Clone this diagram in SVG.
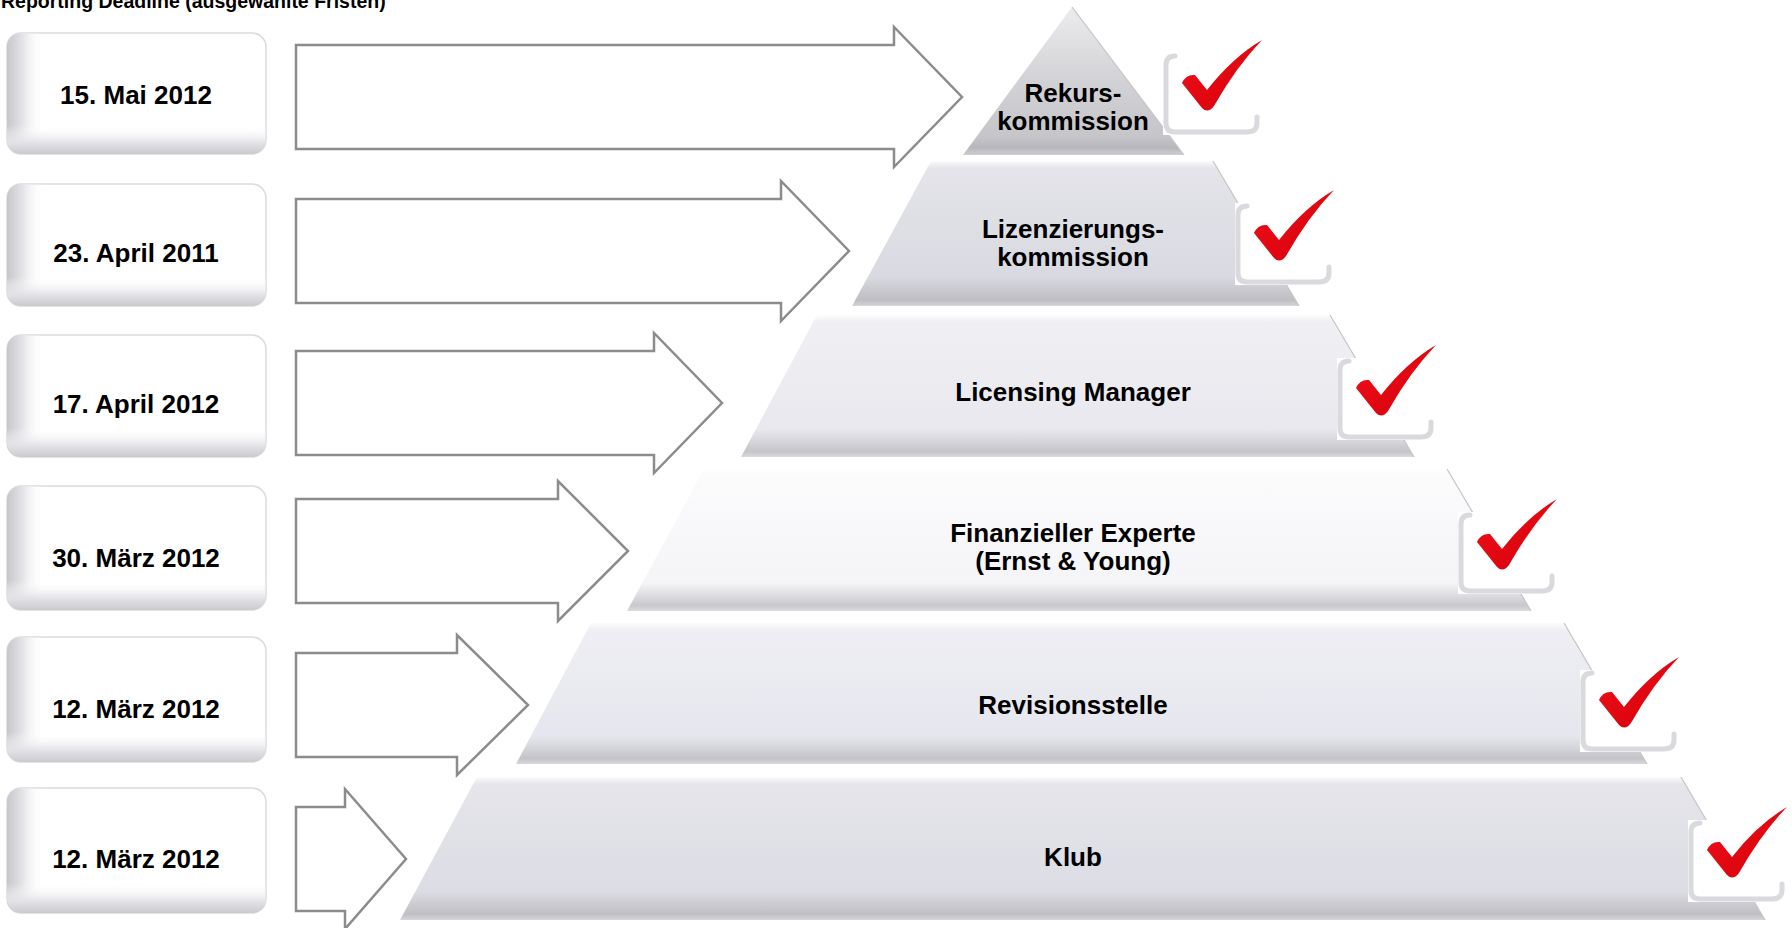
<svg xmlns="http://www.w3.org/2000/svg" width="1792" height="928" viewBox="0 0 1792 928">
<defs>
<linearGradient id="gL" x1="0" y1="0" x2="1" y2="0">
<stop offset="0" stop-color="#c6c6cb" stop-opacity="1"/>
<stop offset="0.06" stop-color="#e4e4e8" stop-opacity="1"/>
<stop offset="0.14" stop-color="#ffffff" stop-opacity="0"/>
</linearGradient>
<linearGradient id="gB" x1="0" y1="0" x2="0" y2="1">
<stop offset="0.76" stop-color="#ffffff" stop-opacity="0"/>
<stop offset="0.91" stop-color="#e2e2e6" stop-opacity="1"/>
<stop offset="1" stop-color="#cacacf" stop-opacity="1"/>
</linearGradient>
<linearGradient id="p1" x1="0" y1="0" x2="0" y2="1">
<stop offset="0" stop-color="#ececee"/>
<stop offset="0.5" stop-color="#d2d2d6"/>
<stop offset="0.88" stop-color="#c6c6ca"/>
<stop offset="0.95" stop-color="#b6b6bb"/>
<stop offset="1" stop-color="#cfcfd3"/>
</linearGradient>
<linearGradient id="p2" x1="0" y1="0" x2="0" y2="1">
<stop offset="0" stop-color="#fbfbfd"/>
<stop offset="0.05" stop-color="#e4e4ea"/>
<stop offset="0.8" stop-color="#d9d9e1"/>
<stop offset="0.88" stop-color="#cbcbd1"/>
<stop offset="0.96" stop-color="#bdbdc2"/>
<stop offset="1" stop-color="#d6d6da"/>
</linearGradient>
<linearGradient id="p3" x1="0" y1="0" x2="0" y2="1">
<stop offset="0" stop-color="#fdfdfe"/>
<stop offset="0.05" stop-color="#f0f0f4"/>
<stop offset="0.8" stop-color="#e8e8ee"/>
<stop offset="0.88" stop-color="#d8d8dd"/>
<stop offset="0.96" stop-color="#c4c4c9"/>
<stop offset="1" stop-color="#dadade"/>
</linearGradient>
<linearGradient id="p4" x1="0" y1="0" x2="0" y2="1">
<stop offset="0" stop-color="#ffffff"/>
<stop offset="0.05" stop-color="#fbfbfc"/>
<stop offset="0.8" stop-color="#f5f5f8"/>
<stop offset="0.88" stop-color="#e0e0e4"/>
<stop offset="0.96" stop-color="#c8c8cd"/>
<stop offset="1" stop-color="#dcdce0"/>
</linearGradient>
<linearGradient id="p5" x1="0" y1="0" x2="0" y2="1">
<stop offset="0" stop-color="#fcfcfe"/>
<stop offset="0.05" stop-color="#eeeef4"/>
<stop offset="0.8" stop-color="#e6e6ee"/>
<stop offset="0.88" stop-color="#d6d6dc"/>
<stop offset="0.96" stop-color="#c3c3c8"/>
<stop offset="1" stop-color="#d8d8dc"/>
</linearGradient>
<linearGradient id="p6" x1="0" y1="0" x2="0" y2="1">
<stop offset="0" stop-color="#fbfbfd"/>
<stop offset="0.05" stop-color="#e5e5eb"/>
<stop offset="0.8" stop-color="#dcdce4"/>
<stop offset="0.88" stop-color="#cdcdd3"/>
<stop offset="0.96" stop-color="#bfbfc4"/>
<stop offset="1" stop-color="#d6d6da"/>
</linearGradient>
<linearGradient id="chk" x1="0" y1="0" x2="1" y2="1">
<stop offset="0" stop-color="#f2101a"/>
<stop offset="1" stop-color="#d2000a"/>
</linearGradient>
<path id="tick" d="M19,30 Q23,21 32,22 L44,37 Q70,4 99,-13 Q73,14 51,53 Q45,61 39,55 Z"/>
</defs>
<style>
.t{font-family:"Liberation Sans",Arial,sans-serif;font-weight:bold;fill:#000}
.d{font-size:26px;text-anchor:middle}
.p{font-size:26px;text-anchor:middle}
.box{fill:#ffffff;stroke:#dcdce0;stroke-width:1.5}
.bl{fill:url(#gL)}
.bb{fill:url(#gB)}
.arr{fill:#ffffff;stroke:#8c8c8c;stroke-width:2.5;stroke-linejoin:miter}
.edge{fill:none;stroke:#c4c4c8;stroke-width:1.2}
.cb{fill:#ffffff}
.cf{fill:none;stroke:#dadade;stroke-width:5;stroke-linecap:round;stroke-linejoin:round}
.ck{fill:url(#chk)}
</style>
<rect width="1792" height="928" fill="#ffffff"/>
<text class="t" x="1" y="8" font-size="19.5">Reporting Deadline (ausgewählte Fristen)</text>

<g id="connectors">
<polygon class="arr" points="296,45 894,45 894,27 962,97 894,167 894,149 296,149"/>
<polygon class="arr" points="296,199 781,199 781,181 849,251 781,321 781,303 296,303"/>
<polygon class="arr" points="296,351 654,351 654,333 722,403 654,473 654,455 296,455"/>
<polygon class="arr" points="296,499 558,499 558,481 628,551 558,621 558,603 296,603"/>
<polygon class="arr" points="296,653 457,653 457,635 528,705 457,775 457,757 296,757"/>
<polygon class="arr" points="296,807 345,807 345,789 406,859 345,929 345,911 296,911"/>
</g>

<g id="date1"><rect class="box" x="7" y="33" width="259" height="121" rx="14"/><rect class="bl" x="7" y="33" width="259" height="121" rx="14"/><rect class="bb" x="7" y="33" width="259" height="121" rx="14"/><text class="t d" x="136" y="104">15. Mai 2012</text></g>
<g id="date2"><rect class="box" x="7" y="184" width="259" height="122" rx="14"/><rect class="bl" x="7" y="184" width="259" height="122" rx="14"/><rect class="bb" x="7" y="184" width="259" height="122" rx="14"/><text class="t d" x="136" y="262">23. April 2011</text></g>
<g id="date3"><rect class="box" x="7" y="335" width="259" height="122" rx="14"/><rect class="bl" x="7" y="335" width="259" height="122" rx="14"/><rect class="bb" x="7" y="335" width="259" height="122" rx="14"/><text class="t d" x="136" y="413">17. April 2012</text></g>
<g id="date4"><rect class="box" x="7" y="486" width="259" height="124" rx="14"/><rect class="bl" x="7" y="486" width="259" height="124" rx="14"/><rect class="bb" x="7" y="486" width="259" height="124" rx="14"/><text class="t d" x="136" y="567">30. März 2012</text></g>
<g id="date5"><rect class="box" x="7" y="637" width="259" height="125" rx="14"/><rect class="bl" x="7" y="637" width="259" height="125" rx="14"/><rect class="bb" x="7" y="637" width="259" height="125" rx="14"/><text class="t d" x="136" y="718">12. März 2012</text></g>
<g id="date6"><rect class="box" x="7" y="788" width="259" height="125" rx="14"/><rect class="bl" x="7" y="788" width="259" height="125" rx="14"/><rect class="bb" x="7" y="788" width="259" height="125" rx="14"/><text class="t d" x="136" y="868">12. März 2012</text></g>

<g id="layer6"><polygon points="477,777 1681,777 1765,920 400,920" fill="url(#p6)"/><polyline class="edge" points="1681,777 1765,920"/><text class="t p" x="1073" y="866">Klub</text></g>
<g id="layer5"><polygon points="591,623 1564,623 1647,764 516,764" fill="url(#p5)"/><polyline class="edge" points="1564,623 1647,764"/><text class="t p" x="1073" y="714">Revisionsstelle</text></g>
<g id="layer4"><polygon points="704,469 1447,469 1531,611 627,611" fill="url(#p4)"/><polyline class="edge" points="1447,469 1531,611"/><text class="t p" x="1073" y="542">Finanzieller Experte</text><text class="t p" x="1073" y="570">(Ernst &amp; Young)</text></g>
<g id="layer3"><polygon points="817,315 1330,315 1414,457 741,457" fill="url(#p3)"/><polyline class="edge" points="1330,315 1414,457"/><text class="t p" x="1073" y="401">Licensing Manager</text></g>
<g id="layer2"><polygon points="931,161 1213,161 1299,306 852,306" fill="url(#p2)"/><polyline class="edge" points="1213,161 1299,306"/><text class="t p" x="1073" y="238">Lizenzierungs-</text><text class="t p" x="1073" y="266">kommission</text></g>
<g id="layer1"><polygon points="1072,7 1184,155 963,155" fill="url(#p1)"/><polyline class="edge" points="1072,7 1184,155"/><text class="t p" x="1073" y="102">Rekurs-</text><text class="t p" x="1073" y="130">kommission</text></g>

<g id="check1" transform="translate(1163,53)"><rect class="cb" x="0" y="0" width="97" height="82"/><path class="cf" d="M12,3 Q3,3 3,12 L3,70 Q3,79 12,79 L84,79 Q94,79 94,70 L94,64"/><use href="#tick" class="ck"/></g>
<g id="check2" transform="translate(1235,203)"><rect class="cb" x="0" y="0" width="97" height="82"/><path class="cf" d="M12,3 Q3,3 3,12 L3,70 Q3,79 12,79 L84,79 Q94,79 94,70 L94,64"/><use href="#tick" class="ck"/></g>
<g id="check3" transform="translate(1337,358)"><rect class="cb" x="0" y="0" width="97" height="82"/><path class="cf" d="M12,3 Q3,3 3,12 L3,70 Q3,79 12,79 L84,79 Q94,79 94,70 L94,64"/><use href="#tick" class="ck"/></g>
<g id="check4" transform="translate(1458,512)"><rect class="cb" x="0" y="0" width="97" height="82"/><path class="cf" d="M12,3 Q3,3 3,12 L3,70 Q3,79 12,79 L84,79 Q94,79 94,70 L94,64"/><use href="#tick" class="ck"/></g>
<g id="check5" transform="translate(1580,670)"><rect class="cb" x="0" y="0" width="97" height="82"/><path class="cf" d="M12,3 Q3,3 3,12 L3,70 Q3,79 12,79 L84,79 Q94,79 94,70 L94,64"/><use href="#tick" class="ck"/></g>
<g id="check6" transform="translate(1688,820)"><rect class="cb" x="0" y="0" width="97" height="82"/><path class="cf" d="M12,3 Q3,3 3,12 L3,70 Q3,79 12,79 L84,79 Q94,79 94,70 L94,64"/><use href="#tick" class="ck"/></g>
</svg>
